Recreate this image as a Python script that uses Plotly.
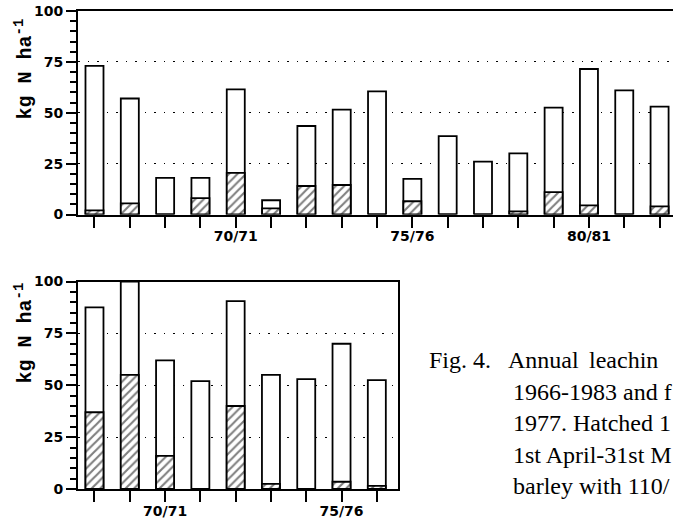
import plotly.graph_objects as go
from plotly.subplots import make_subplots

# upper panel: 1966/67 - 1982/83
top_seasons = ["66/67", "67/68", "68/69", "69/70", "70/71", "71/72", "72/73", "73/74", "74/75",
               "75/76", "76/77", "77/78", "78/79", "79/80", "80/81", "81/82", "82/83"]
top_total = [73, 57, 18, 18, 61.5, 7, 43.5, 51.5, 60.5, 17.5, 38.5, 26, 30, 52.5, 71.5, 61, 53]
top_hatched = [2, 5.5, 0, 8, 20.5, 3, 14, 14.5, 0, 6.5, 0, 0, 1.5, 11, 4.5, 0, 4]
top_labeled = ["70/71", "75/76", "80/81"]

# lower panel: 1968/69 - 1976/77
bot_seasons = ["68/69", "69/70", "70/71", "71/72", "72/73", "73/74", "74/75", "75/76", "76/77"]
bot_total = [87.5, 100, 62, 52, 90.5, 55, 53, 70, 52.5]
bot_hatched = [37, 55, 16, 0, 40, 2.5, 0, 3.5, 1.5]
bot_labeled = ["70/71", "75/76"]

y_ticks = [0, 25, 50, 75, 100]
y_title = "kg N ha<sup>-1</sup>"

caption = [
    ("Fig. 4.", 427, 360), ("Annual", 506, 360), ("leachin", 587, 360),
    ("1966-1983 and f", 511, 392),
    ("1977. Hatched 1", 511, 423),
    ("1st April-31st M", 511, 455),
    ("barley with 110/", 511, 486),
]

W, H = 673, 523
tick_font = dict(family="DejaVu Sans", size=14, color="black", weight="bold")

fig = make_subplots(rows=2, cols=1)

for row, seasons, total, hatched in [(1, top_seasons, top_total, top_hatched),
                                     (2, bot_seasons, bot_total, bot_hatched)]:
    fig.add_trace(go.Bar(
        x=seasons, y=total, width=0.51,
        marker=dict(color="white", line=dict(color="black", width=1.8)),
        showlegend=False
    ), row=row, col=1)
    fig.add_trace(go.Bar(
        x=seasons, y=hatched, width=0.51,
        marker=dict(color="white", line=dict(color="black", width=1.8),
                    pattern=dict(shape="/", size=6, solidity=0.35, fgcolor="black", bgcolor="white")),
        showlegend=False
    ), row=row, col=1)

fig.update_xaxes(
    showline=True, linecolor="black", linewidth=2, mirror=True,
    ticks="outside", ticklen=11, tickwidth=2, tickcolor="black",
    tickfont=tick_font, ticklabelstandoff=-3, showgrid=False,
    automargin=False, fixedrange=True
)
fig.update_xaxes(domain=[78 / W, 1.0], range=[-0.467, 16.38],
                 tickvals=top_seasons,
                 ticktext=[s if s in top_labeled else "" for s in top_seasons],
                 row=1, col=1)
fig.update_xaxes(domain=[78 / W, 398 / W], range=[-0.467, 8.6],
                 tickvals=bot_seasons,
                 ticktext=[s if s in bot_labeled else "" for s in bot_seasons],
                 row=2, col=1)

fig.update_yaxes(
    range=[0, 100], tickvals=y_ticks,
    showline=True, linecolor="black", linewidth=2,
    ticks="outside", ticklen=10, tickwidth=2, tickcolor="black",
    minor=dict(dtick=5, ticks="outside", ticklen=6, tickwidth=1.5, tickcolor="black", showgrid=False),
    tickfont=tick_font,
    showgrid=True, gridcolor="black", gridwidth=1.3, griddash="1.5px,8px",
    zeroline=False, automargin=False, fixedrange=True
)
fig.update_yaxes(domain=[1 - 214.5 / H, 1 - 11 / H], mirror=False, row=1, col=1)
fig.update_yaxes(domain=[1 - 489 / H, 1 - 281.5 / H], mirror=True, row=2, col=1)

# axis titles sit high on each panel, so place them as rotated notes
for ytop in [17, 281]:
    fig.add_annotation(
        text=y_title, x=8 / W, y=1 - ytop / H, xref="paper", yref="paper",
        xanchor="left", yanchor="top",
        showarrow=False, textangle=-90,
        font=dict(family="Liberation Mono", size=20, color="black", weight="bold")
    )

for txt, xp, yp in caption:
    fig.add_annotation(
        text=txt, x=xp / W, y=1 - yp / H, xref="paper", yref="paper",
        xanchor="left", yanchor="middle", showarrow=False,
        font=dict(family="Liberation Serif", size=24, color="black")
    )

fig.update_layout(
    width=W, height=H,
    margin=dict(l=0, r=0, t=0, b=0, autoexpand=False),
    barmode="overlay", bargap=0.49,
    paper_bgcolor="white", plot_bgcolor="white"
)

fig.write_html("out.html", config={"displayModeBar": False},
               post_script="document.body.style.margin='0';")
